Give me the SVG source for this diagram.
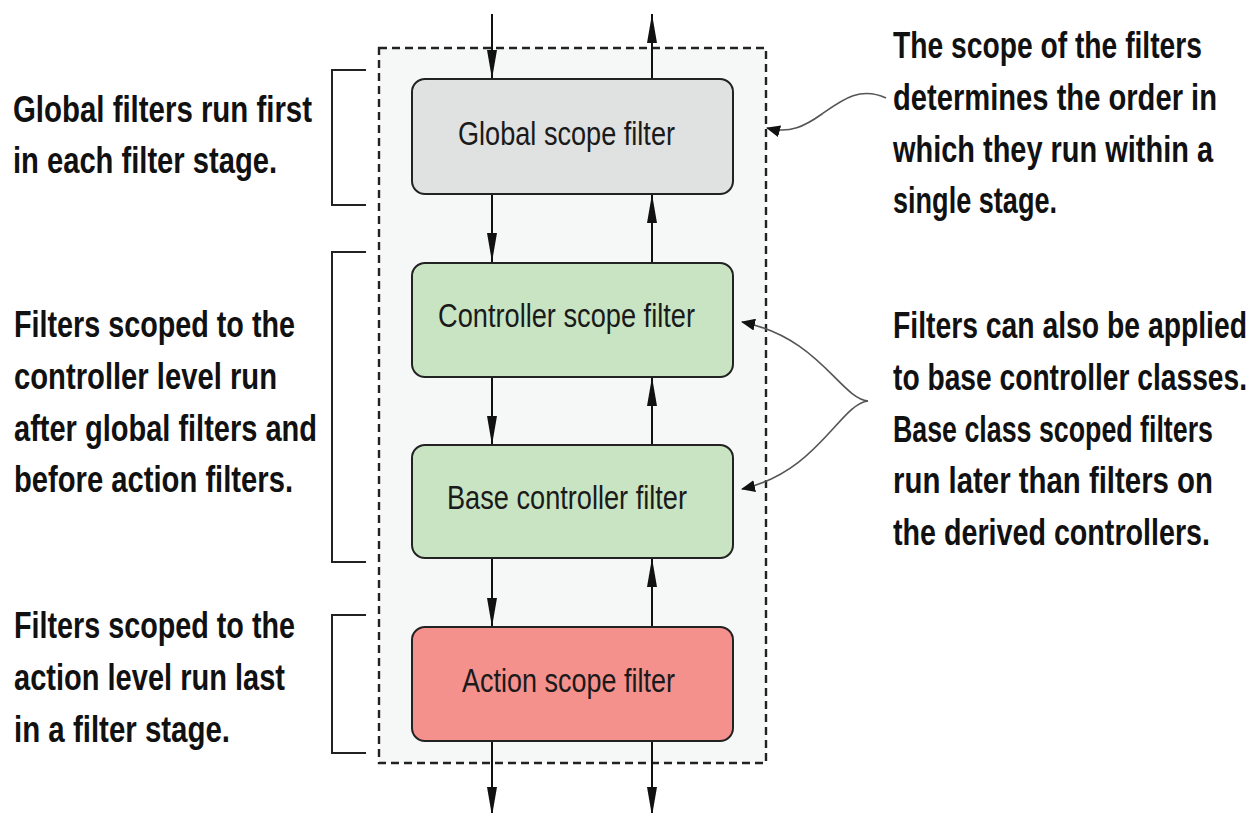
<svg xmlns="http://www.w3.org/2000/svg" width="1260" height="813" viewBox="0 0 1260 813">
<defs>
<style>
.box{stroke:#222;stroke-width:2}
.lbl{font-family:"Liberation Sans Narrow","Liberation Sans",Arial,sans-serif;font-size:33px;fill:#1a1a1a}
.note{font-family:"Liberation Sans Narrow","Liberation Sans",Arial,sans-serif;font-weight:bold;font-size:37px;fill:#111}
.flow{stroke:#111;stroke-width:2;fill:none;marker-end:url(#ah)}
.call{stroke:#555;stroke-width:1.6;fill:none;marker-end:url(#ch)}
.brk{stroke:#222;stroke-width:2;fill:none}
</style>
<marker id="ah" markerUnits="userSpaceOnUse" markerWidth="30" markerHeight="12" refX="29" refY="5" orient="auto" viewBox="0 0 30 10">
<path d="M0,0 L29,5 L0,10 z" fill="#111"/>
</marker>
<marker id="ch" markerUnits="userSpaceOnUse" markerWidth="15" markerHeight="12" refX="13" refY="6" orient="auto" viewBox="0 0 15 12">
<path d="M0,0 L14,6 L0,12 z" fill="#111"/>
</marker>
</defs>
<rect width="1260" height="813" fill="#fff"/>
<g id="stage">
<rect x="379" y="48" width="387" height="715" fill="#f6f8f7" stroke="#222" stroke-width="2.4" stroke-dasharray="8,5"/>
</g>
<g id="connectors">
<line class="flow" x1="492" y1="14" x2="492" y2="79"/>
<line class="flow" x1="652" y1="79" x2="652" y2="14"/>
<line class="flow" x1="492" y1="194" x2="492" y2="262"/>
<line class="flow" x1="652" y1="262" x2="652" y2="194"/>
<line class="flow" x1="492" y1="377" x2="492" y2="445"/>
<line class="flow" x1="652" y1="445" x2="652" y2="377"/>
<line class="flow" x1="492" y1="558" x2="492" y2="627"/>
<line class="flow" x1="652" y1="627" x2="652" y2="558"/>
<line class="flow" x1="492" y1="741" x2="492" y2="816"/>
<line class="flow" x1="652" y1="741" x2="652" y2="816"/>
<path class="call" d="M886,98 C860,86 842,100 822,114 C805,126 790,134 767,128"/>
<path class="call" d="M868,401 C840,398 820,338 742,322"/>
<path class="call" d="M868,401 C840,404 818,472 742,489"/>
</g>
<g id="global">
<rect class="box" x="412" y="79" width="321" height="115" rx="13" fill="#e0e1e1"/>
<text class="lbl" x="458" y="145" textLength="217" lengthAdjust="spacingAndGlyphs">Global scope filter</text>
</g>
<g id="controller">
<rect class="box" x="412" y="263" width="321" height="114" rx="13" fill="#c8e4c3"/>
<text class="lbl" x="438" y="327" textLength="257" lengthAdjust="spacingAndGlyphs">Controller scope filter</text>
</g>
<g id="base">
<rect class="box" x="412" y="445" width="321" height="113" rx="13" fill="#c8e4c3"/>
<text class="lbl" x="447" y="509" textLength="240" lengthAdjust="spacingAndGlyphs">Base controller filter</text>
</g>
<g id="action">
<rect class="box" x="412" y="627" width="321" height="114" rx="13" fill="#f4918d"/>
<text class="lbl" x="462" y="692" textLength="213" lengthAdjust="spacingAndGlyphs">Action scope filter</text>
</g>
<g id="note-global">
<path class="brk" d="M366,70 H332 V205 H366"/>
<text class="note" x="13" y="122" textLength="299" lengthAdjust="spacingAndGlyphs">Global filters run first</text>
<text class="note" x="13" y="173" textLength="264" lengthAdjust="spacingAndGlyphs">in each filter stage.</text>
</g>
<g id="note-controller">
<path class="brk" d="M366,252 H332 V562 H366"/>
<text class="note" x="14" y="337" textLength="281" lengthAdjust="spacingAndGlyphs">Filters scoped to the</text>
<text class="note" x="14" y="389" textLength="263" lengthAdjust="spacingAndGlyphs">controller level run</text>
<text class="note" x="14" y="441" textLength="303" lengthAdjust="spacingAndGlyphs">after global filters and</text>
<text class="note" x="14" y="492" textLength="279" lengthAdjust="spacingAndGlyphs">before action filters.</text>
</g>
<g id="note-action">
<path class="brk" d="M366,615 H332 V753 H366"/>
<text class="note" x="14" y="638" textLength="281" lengthAdjust="spacingAndGlyphs">Filters scoped to the</text>
<text class="note" x="14" y="690" textLength="271" lengthAdjust="spacingAndGlyphs">action level run last</text>
<text class="note" x="14" y="742" textLength="216" lengthAdjust="spacingAndGlyphs">in a filter stage.</text>
</g>
<g id="note-scope">
<text class="note" x="893" y="58" textLength="309" lengthAdjust="spacingAndGlyphs">The scope of the filters</text>
<text class="note" x="893" y="110" textLength="324" lengthAdjust="spacingAndGlyphs">determines the order in</text>
<text class="note" x="893" y="162" textLength="320" lengthAdjust="spacingAndGlyphs">which they run within a</text>
<text class="note" x="893" y="213" textLength="164" lengthAdjust="spacingAndGlyphs">single stage.</text>
</g>
<g id="note-base">
<text class="note" x="893" y="338" textLength="354" lengthAdjust="spacingAndGlyphs">Filters can also be applied</text>
<text class="note" x="893" y="390" textLength="354" lengthAdjust="spacingAndGlyphs">to base controller classes.</text>
<text class="note" x="893" y="442" textLength="320" lengthAdjust="spacingAndGlyphs">Base class scoped filters</text>
<text class="note" x="893" y="493" textLength="320" lengthAdjust="spacingAndGlyphs">run later than filters on</text>
<text class="note" x="893" y="545" textLength="317" lengthAdjust="spacingAndGlyphs">the derived controllers.</text>
</g>
</svg>
